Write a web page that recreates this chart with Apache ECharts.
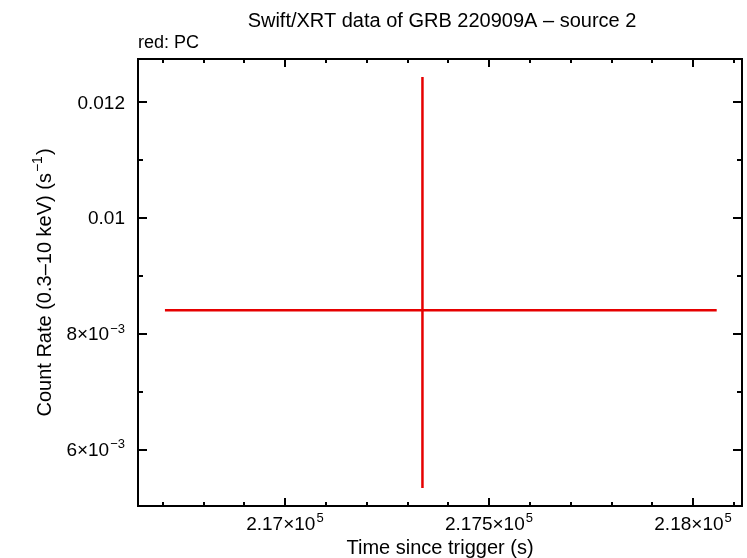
<!DOCTYPE html>
<html>
<head>
<meta charset="utf-8">
<script src="https://cdn.jsdelivr.net/npm/echarts@6/dist/echarts.min.js"></script>
<style>html,body{margin:0;padding:0;background:#fff;}#c{width:747px;height:558px;}</style>
</head>
<body>
<div id="c"></div>
<script>
// Data
const timeCenter = [217337];
const timeLow = [216706];
const timeHigh = [218058];
const rate = [0.00840];
const rateLow = [0.00533];
const rateHigh = [0.01243];

// Axis ticks
const xMajor = [217000, 217500, 218000];
const xMinor = [216700, 216800, 216900, 217100, 217200, 217300, 217400, 217600, 217700, 217800, 217900, 218100];
const xLabels = {217000: ['2.17×10', '5'], 217500: ['2.175×10', '5'], 218000: ['2.18×10', '5']};
const yMajor = [0.006, 0.008, 0.01, 0.012];
const yMinor = [0.007, 0.009, 0.011];
const yLabels = {'0.006': ['6×10', '−3'], '0.008': ['8×10', '−3'], '0.01': ['0.01', ''], '0.012': ['0.012', '']};

const xMin = 216640, xMax = 218120;
const yMin = 0.00502, yMax = 0.01274;

const FONT = 'Liberation Sans, Arial, Helvetica, sans-serif';
const BLACK = '#000';
const RED = '#e60000';

const rich = {
  a: {fontSize: 19, fontFamily: FONT, color: BLACK, lineHeight: 22, verticalAlign: 'bottom'},
  b: {fontSize: 13, fontFamily: FONT, color: BLACK, lineHeight: 22, verticalAlign: 'top', padding: [0, 0, 0, 1]}
};
const richName = {
  a: {fontSize: 20, fontFamily: FONT, color: BLACK, lineHeight: 24, verticalAlign: 'bottom'},
  b: {fontSize: 14, fontFamily: FONT, color: BLACK, lineHeight: 24, verticalAlign: 'top', padding: [0, 1, 0, 1]}
};

function fmt(parts) {
  return parts[1] ? '{a|' + parts[0] + '}{b|' + parts[1] + '}' : '{a|' + parts[0] + '}';
}

function xAxisDef(pos, major, showLabel) {
  return {
    type: 'value', min: xMin, max: xMax, position: pos,
    axisLine: {show: true, onZero: false, lineStyle: {color: BLACK, width: 2}},
    axisTick: {show: true, inside: true, length: major ? 8 : 4, lineStyle: {color: BLACK, width: 2},
      customValues: major ? xMajor : xMinor},
    axisLabel: {show: showLabel, customValues: xMajor, margin: 6,
      formatter: v => fmt(xLabels[Math.round(v)] || [String(v), '']), rich: rich},
    splitLine: {show: false},
    name: showLabel ? 'Time since trigger (s)' : '',
    nameLocation: 'middle', nameGap: 29,
    nameTextStyle: {fontSize: 20, fontFamily: FONT, color: BLACK}
  };
}

function yAxisDef(pos, major, showLabel) {
  return {
    type: 'value', min: yMin, max: yMax, position: pos,
    axisLine: {show: true, onZero: false, lineStyle: {color: BLACK, width: 2}},
    axisTick: {show: true, inside: true, length: major ? 9 : 5, lineStyle: {color: BLACK, width: 2},
      customValues: major ? yMajor : yMinor},
    axisLabel: {show: showLabel, customValues: yMajor, margin: 13,
      formatter: v => fmt(yLabels[String(+v.toFixed(4))] || [String(v), '']), rich: rich},
    splitLine: {show: false},
    name: showLabel ? '{a|Count Rate (0.3–10 keV) (s}{b|−1}{a|)}' : '',
    nameLocation: 'middle', nameGap: 82,
    nameTextStyle: {fontSize: 20, fontFamily: FONT, color: BLACK, rich: richName}
  };
}

const chart = echarts.init(document.getElementById('c'), null, {renderer: 'canvas'});
chart.setOption({
  animation: false,
  backgroundColor: '#fff',
  title: [
    {text: 'Swift/XRT data of GRB 220909A – source 2', left: 437, top: 6, textAlign: 'center',
      textStyle: {fontSize: 20, fontWeight: 'normal', fontFamily: FONT, color: BLACK}},
    {text: 'red: PC', left: 133, top: 29,
      textStyle: {fontSize: 18, fontWeight: 'normal', fontFamily: FONT, color: BLACK}}
  ],
  grid: {left: 138, right: 5, top: 59, bottom: 52, containLabel: false, outerBoundsMode: 'none'},
  xAxis: [
    xAxisDef('bottom', true, true),
    xAxisDef('bottom', false, false),
    xAxisDef('top', true, false),
    xAxisDef('top', false, false)
  ],
  yAxis: [
    yAxisDef('left', true, true),
    yAxisDef('left', false, false),
    yAxisDef('right', true, false),
    yAxisDef('right', false, false)
  ],
  series: [{
    type: 'custom',
    xAxisIndex: 0, yAxisIndex: 0,
    data: timeCenter.map((t, i) => [t, rate[i], timeLow[i], timeHigh[i], rateLow[i], rateHigh[i]]),
    encode: {x: [0, 2, 3], y: [1, 4, 5]},
    renderItem: function (params, api) {
      const xl = api.coord([api.value(2), api.value(1)]);
      const xh = api.coord([api.value(3), api.value(1)]);
      const yl = api.coord([api.value(0), api.value(4)]);
      const yh = api.coord([api.value(0), api.value(5)]);
      const style = {stroke: RED, lineWidth: 2.5, fill: null};
      return {
        type: 'group',
        children: [
          {type: 'line', shape: {x1: xl[0], y1: xl[1], x2: xh[0], y2: xh[1]}, style: style},
          {type: 'line', shape: {x1: yl[0], y1: yl[1], x2: yh[0], y2: yh[1]}, style: style}
        ]
      };
    }
  }]
});
</script>
</body>
</html>
